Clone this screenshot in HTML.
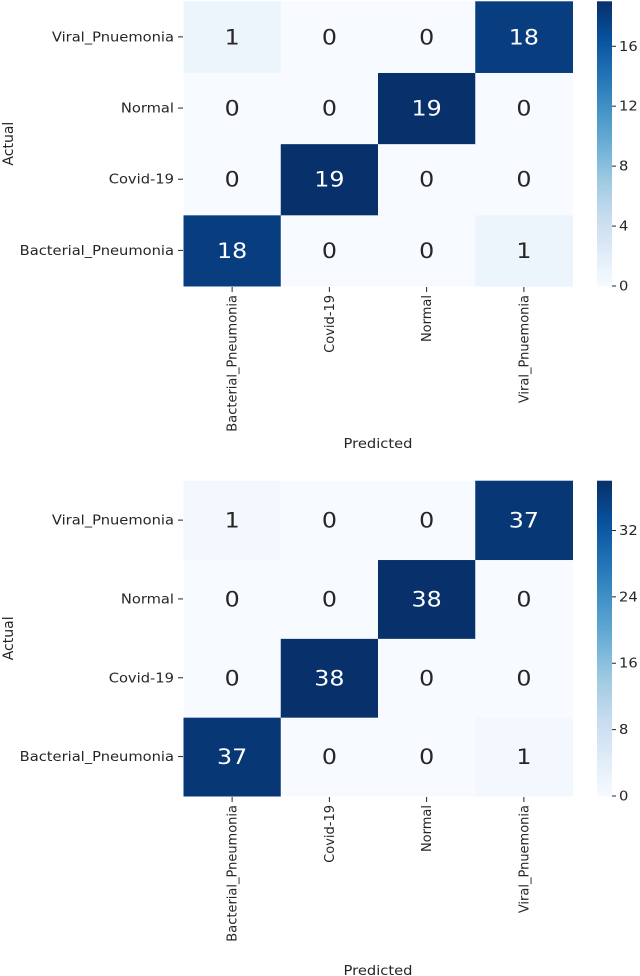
<!DOCTYPE html>
<html><head><meta charset="utf-8"><style>
html,body{margin:0;padding:0;background:#fff;}
svg{display:block;font-family:"DejaVu Sans","Liberation Sans",sans-serif;}
</style></head><body>
<svg id="svg" width="640" height="976" viewBox="0 0 640 976"></svg>
<script>
const categories = ["Bacterial_Pneumonia","Covid-19","Normal","Viral_Pnuemonia"];
// rows = actual (bottom to top order in categories), cols = predicted
const matrixTop = [[18,0,0,1],[0,19,0,0],[0,0,19,0],[1,0,0,18]];
const matrixBottom = [[37,0,0,1],[0,38,0,0],[0,0,38,0],[1,0,0,37]];
const ticksTop = [0,4,8,12,16];
const ticksBottom = [0,8,16,24,32];
const vmaxTop = 19;
const vmaxBottom = 38;

const NS="http://www.w3.org/2000/svg";
const svg=document.getElementById('svg');
const SX=1.13;
const stops=["#f7fbff","#deebf7","#c6dbef","#9ecae1","#6baed6","#4292c6","#2171b5","#08519c","#08306b"];
function hex(c){return [1,3,5].map(i=>parseInt(c.substr(i,2),16));}
function blues(t){t=Math.max(0,Math.min(1,t));const p=t*8;const i=Math.min(7,Math.floor(p));const f=p-i;const a=hex(stops[i]),b=hex(stops[i+1]);return `rgb(${a.map((v,k)=>Math.round(v+(b[k]-v)*f)).join(',')})`;}
function mk(tag,attrs,parent){const e=document.createElementNS(NS,tag);for(const k in attrs)e.setAttribute(k,attrs[k]);(parent||svg).appendChild(e);return e;}
function htext(x,y,anchor,size,fill,parent){return mk('text',{x:0,y:0,'text-anchor':anchor,'font-size':size,fill:fill,transform:`translate(${x},${y}) scale(${SX},1)`},parent);}

function drawChart(matrix,vmax,ticks,top,bottom,name,xtitleY){
  const g=mk('g',{});
  
  
  const left=183.5,right=572.5,n=categories.length;
  const cw=(right-left)/n,rh=(bottom-top)/n;
  const xs=c=>left+c*cw;
  const ys=r=>bottom-(r+1)*rh;
  for(let r=0;r<n;r++)for(let c=0;c<n;c++){
    const v=matrix[r][c];const t=v/vmax;
    const rect=mk('rect',{x:xs(c),y:ys(r),width:cw+0.5,height:rh+0.5,fill:blues(t)},g);
    
    
    const tx=htext(xs(c)+cw/2,ys(r)+rh/2+7.5,'middle',21,t>0.5?'#fff':'#262626',g);
    tx.textContent=v;
    
    
  }
  for(let r=0;r<n;r++){
    const y=ys(r)+rh/2;
    mk('line',{x1:178,x2:183,y1:y,y2:y,stroke:'#262626','stroke-width':1},g);
    const t=htext(174,y+4.5,'end',13,'#262626',g);
    t.textContent=categories[r];
    
    
  }
  for(let c=0;c<n;c++){
    const x=xs(c)+cw/2;
    mk('line',{x1:x,x2:x,y1:bottom+1,y2:bottom+6,stroke:'#262626','stroke-width':1},g);
    const t=mk('text',{x:0,y:0,'text-anchor':'end','font-size':13,fill:'#262626',transform:`translate(${x+4.5},${bottom+9}) rotate(-90)`},g);
    t.textContent=categories[c];
    
    
  }
  const cx=597,cwid=15,steps=120;
  for(let i=0;i<steps;i++){
    const y0=bottom-(i+1)*(bottom-top)/steps;
    mk('rect',{x:cx,y:y0,width:cwid,height:(bottom-top)/steps+0.6,fill:blues((i+0.5)/steps)},g);
  }
  ticks.forEach(tv=>{
    const y=bottom-tv/vmax*(bottom-top);
    mk('line',{x1:cx+cwid,x2:cx+cwid+4,y1:y,y2:y,stroke:'#262626','stroke-width':1},g);
    const t=htext(cx+cwid+7,y+4.5,'start',13,'#262626',g);
    t.textContent=tv;
    
    
  });
  const xl=htext(378,xtitleY,'middle',13,'#262626',g);
  xl.textContent='Predicted';
  
  
  const yl=mk('text',{x:0,y:0,'text-anchor':'middle','font-size':14,fill:'#262626',transform:`translate(13,${(top+bottom)/2}) rotate(-90)`},g);
  yl.textContent='Actual';
  
  
}
drawChart(matrixTop,vmaxTop,ticksTop,1.3,286,'confusion-matrix-top',448);
drawChart(matrixBottom,vmaxBottom,ticksBottom,480.7,796,'confusion-matrix-bottom',975);
</script>
</body></html>
